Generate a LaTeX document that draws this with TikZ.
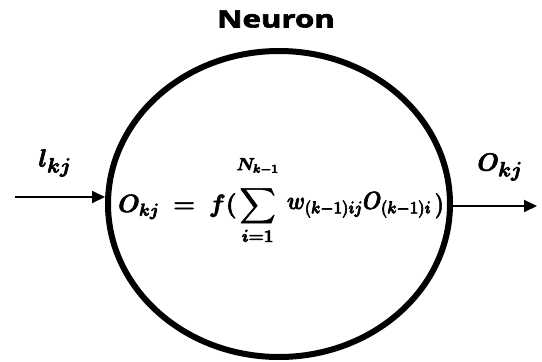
\documentclass[tikz,border=0pt]{standalone}
\usepackage{amsmath}
\usepackage{bm}
\usepackage{fontspec}
\newfontfamily\titlefont{Open Sans}
\usetikzlibrary{arrows.meta,shapes.geometric}
\newcommand{\heavy}[1]{\special{pdf:literal direct 2 Tr 0.6 w}#1\special{pdf:literal direct 0 Tr}}
\begin{document}
\begin{tikzpicture}[x=1pt,y=-1pt,
  conn/.style={line width=2pt,-{Triangle[length=13pt,width=12pt]}},
  lbl/.style={inner sep=0pt}]
\useasboundingbox (0,0) rectangle (542,362);
\node[draw,ellipse,line width=6pt,minimum width=342pt,minimum height=306pt,inner sep=0pt] (neuron) at (279,204) {};
\node[lbl,font=\titlefont\bfseries\fontsize{24}{28}\selectfont] (title) at (276,19) {\heavy{\scalebox{1.3}[1]{Neuron}}};
\node[lbl,anchor=base west,font=\fontsize{25}{30}\selectfont] (formula) at (118,212)
  {\heavy{$\displaystyle\bm{O_{kj}}\;\bm{=}\;\bm{f}\bm{(}\sum_{\rule{0pt}{11pt}\bm{i=1}}^{\bm{N_{k-1}}\rule[-13pt]{0pt}{0pt}}\,\scalebox{0.86}[1]{\raisebox{3pt}{$\bm{w_{(k-1)ij}O_{(k-1)i}}$}$\,\bm{)}$}$}};
\coordinate (in) at (15,197);
\coordinate (outend) at (537,206);
\node[lbl,font=\fontsize{28}{32}\selectfont] (lin) at (55,163) {\heavy{$\bm{l_{kj}}$}};
\node[lbl,font=\fontsize{28}{32}\selectfont] (lout) at (500,167) {\heavy{$\bm{O_{kj}}$}};
\draw[conn] (in) -- (in -| neuron.west);
\draw[conn] (outend -| neuron.east) -- (outend);
\end{tikzpicture}
\end{document}
